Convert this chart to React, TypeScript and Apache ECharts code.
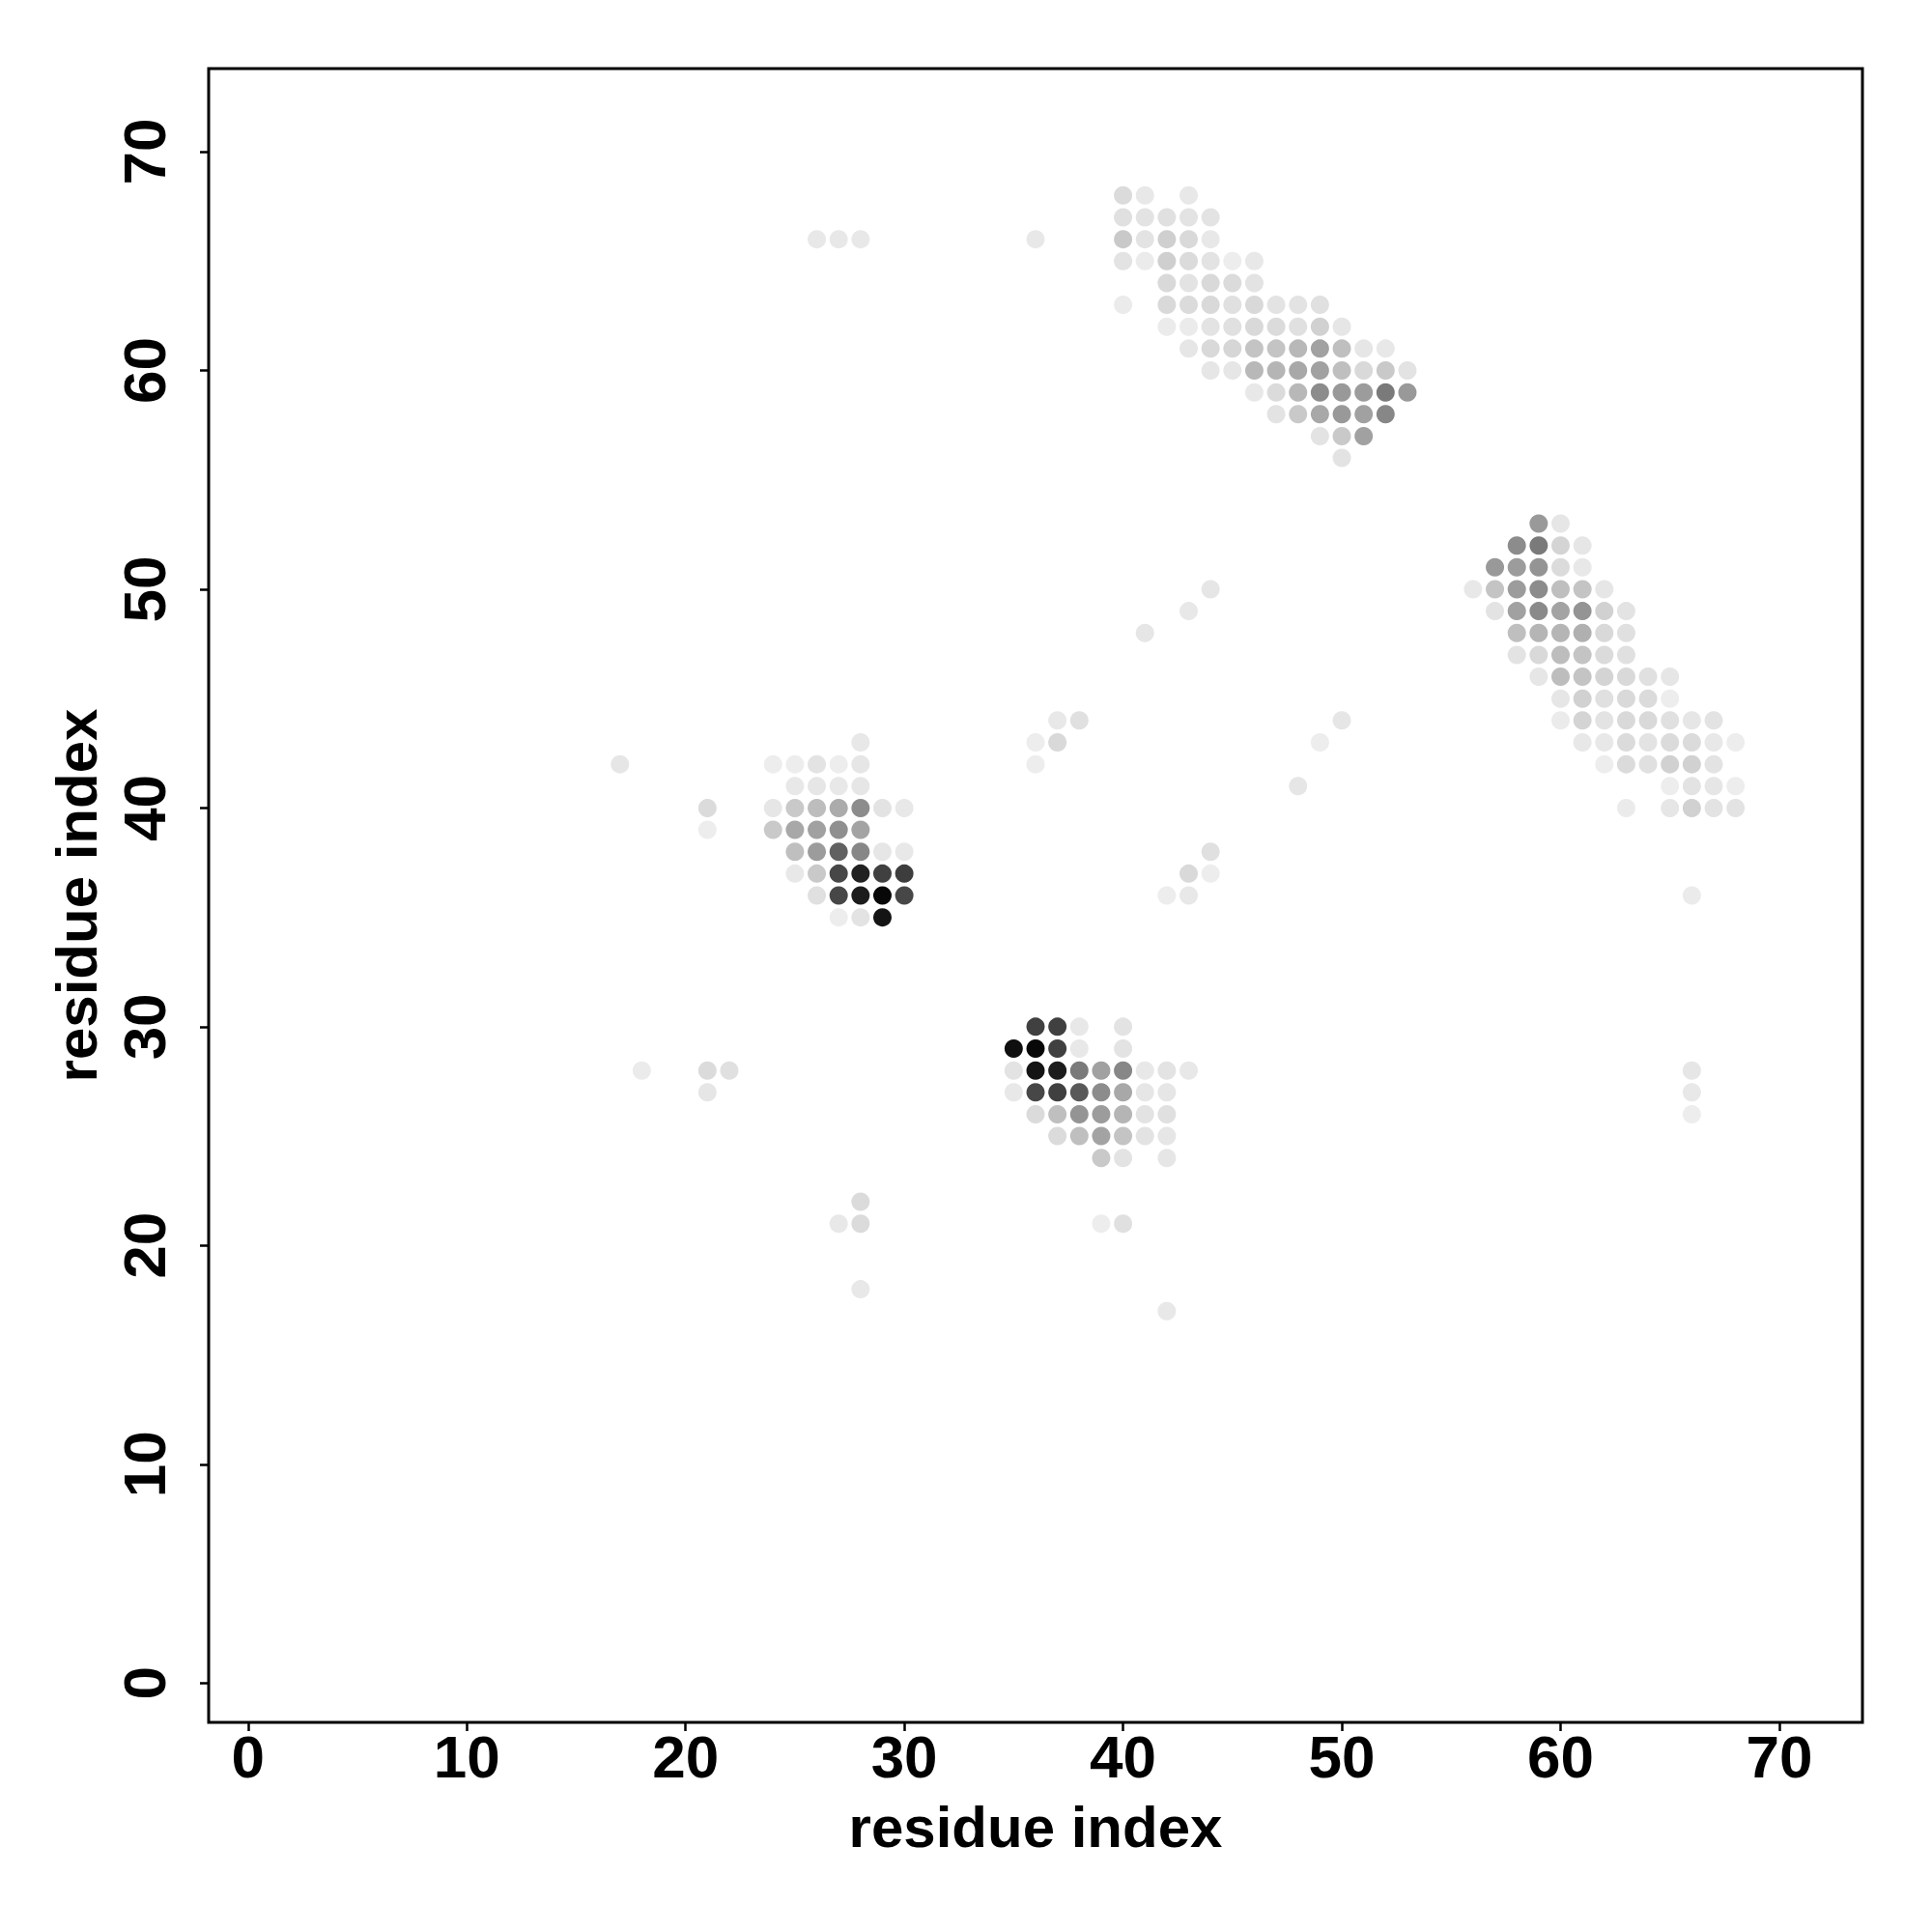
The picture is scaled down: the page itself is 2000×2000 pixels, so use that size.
import React, { useEffect, useRef } from "react";
import * as echarts from "echarts";

// [residue i, residue j, contact frequency]
const clusterTop: number[][] = [
  [40, 68, 0.14], [41, 68, 0.09], [43, 68, 0.09],
  [40, 67, 0.12], [41, 67, 0.11], [42, 67, 0.12], [43, 67, 0.11], [44, 67, 0.11],
  [40, 66, 0.21], [41, 66, 0.11], [42, 66, 0.19], [43, 66, 0.15], [44, 66, 0.09],
  [40, 65, 0.11], [41, 65, 0.08], [42, 65, 0.19], [43, 65, 0.14], [44, 65, 0.11], [45, 65, 0.07], [46, 65, 0.09],
  [42, 64, 0.15], [43, 64, 0.11], [44, 64, 0.15], [45, 64, 0.14], [46, 64, 0.11],
  [40, 63, 0.08], [42, 63, 0.15], [43, 63, 0.14], [44, 63, 0.15], [45, 63, 0.12], [46, 63, 0.15], [47, 63, 0.11], [48, 63, 0.11], [49, 63, 0.12],
  [42, 62, 0.08], [43, 62, 0.08], [44, 62, 0.11], [45, 62, 0.12], [46, 62, 0.15], [47, 62, 0.14], [48, 62, 0.12], [49, 62, 0.18], [50, 62, 0.1],
  [43, 61, 0.1], [44, 61, 0.15], [45, 61, 0.16], [46, 61, 0.23], [47, 61, 0.23], [48, 61, 0.28], [49, 61, 0.37], [50, 61, 0.25], [51, 61, 0.1], [52, 61, 0.09],
  [44, 60, 0.1], [45, 60, 0.1], [46, 60, 0.28], [47, 60, 0.29], [48, 60, 0.34], [49, 60, 0.37], [50, 60, 0.25], [51, 60, 0.15], [52, 60, 0.21], [53, 60, 0.11],
  [46, 59, 0.09], [47, 59, 0.14], [48, 59, 0.28], [49, 59, 0.45], [50, 59, 0.4], [51, 59, 0.39], [52, 59, 0.52], [53, 59, 0.4],
  [47, 58, 0.11], [48, 58, 0.21], [49, 58, 0.34], [50, 58, 0.4], [51, 58, 0.37], [52, 58, 0.47],
  [49, 57, 0.11], [50, 57, 0.21], [51, 57, 0.37],
  [50, 56, 0.11],
];

const clusterRight: number[][] = [
  [59, 53, 0.4], [60, 53, 0.1],
  [58, 52, 0.45], [59, 52, 0.52], [60, 52, 0.17], [61, 52, 0.1],
  [57, 51, 0.4], [58, 51, 0.39], [59, 51, 0.42], [60, 51, 0.14], [61, 51, 0.09],
  [56, 50, 0.09], [57, 50, 0.23], [58, 50, 0.39], [59, 50, 0.45], [60, 50, 0.25], [61, 50, 0.23], [62, 50, 0.1],
  [57, 49, 0.11], [58, 49, 0.37], [59, 49, 0.46], [60, 49, 0.36], [61, 49, 0.42], [62, 49, 0.18], [63, 49, 0.11],
  [58, 48, 0.25], [59, 48, 0.29], [60, 48, 0.29], [61, 48, 0.31], [62, 48, 0.15], [63, 48, 0.12],
  [58, 47, 0.11], [59, 47, 0.15], [60, 47, 0.26], [61, 47, 0.23], [62, 47, 0.14], [63, 47, 0.12],
  [59, 46, 0.1], [60, 46, 0.26], [61, 46, 0.23], [62, 46, 0.17], [63, 46, 0.15], [64, 46, 0.12], [65, 46, 0.1],
  [60, 45, 0.1], [61, 45, 0.18], [62, 45, 0.12], [63, 45, 0.15], [64, 45, 0.14], [65, 45, 0.07],
  [60, 44, 0.08], [61, 44, 0.17], [62, 44, 0.11], [63, 44, 0.15], [64, 44, 0.15], [65, 44, 0.12], [66, 44, 0.1], [67, 44, 0.11],
  [61, 43, 0.09], [62, 43, 0.09], [63, 43, 0.14], [64, 43, 0.11], [65, 43, 0.14], [66, 43, 0.14], [67, 43, 0.09], [68, 43, 0.07],
  [62, 42, 0.07], [63, 42, 0.14], [64, 42, 0.12], [65, 42, 0.18], [66, 42, 0.18], [67, 42, 0.11],
  [65, 41, 0.07], [66, 41, 0.11], [67, 41, 0.1], [68, 41, 0.07],
  [63, 40, 0.08], [65, 40, 0.1], [66, 40, 0.18], [67, 40, 0.11], [68, 40, 0.11],
];

const clusterLeft: number[][] = [
  [28, 43, 0.09],
  [24, 42, 0.07], [25, 42, 0.07], [26, 42, 0.11], [27, 42, 0.07], [28, 42, 0.1],
  [25, 41, 0.09], [26, 41, 0.1], [27, 41, 0.09], [28, 41, 0.1],
  [24, 40, 0.1], [25, 40, 0.21], [26, 40, 0.26], [27, 40, 0.33], [28, 40, 0.45], [29, 40, 0.11], [30, 40, 0.09],
  [24, 39, 0.21], [25, 39, 0.34], [26, 39, 0.37], [27, 39, 0.44], [28, 39, 0.36],
  [25, 38, 0.25], [26, 38, 0.39], [27, 38, 0.62], [28, 38, 0.47], [29, 38, 0.1], [30, 38, 0.09],
  [25, 37, 0.09], [26, 37, 0.21], [27, 37, 0.72], [28, 37, 0.87], [29, 37, 0.75], [30, 37, 0.76],
  [26, 36, 0.12], [27, 36, 0.72], [28, 36, 0.89], [29, 36, 0.97], [30, 36, 0.72],
  [27, 35, 0.07], [28, 35, 0.11], [29, 35, 0.92],
];

const clusterLow: number[][] = [
  [36, 30, 0.75], [37, 30, 0.75], [38, 30, 0.09], [40, 30, 0.11],
  [35, 29, 0.94], [36, 29, 0.97], [37, 29, 0.75], [38, 29, 0.09], [40, 29, 0.11],
  [35, 28, 0.11], [36, 28, 0.92], [37, 28, 0.89], [38, 28, 0.52], [39, 28, 0.37], [40, 28, 0.47], [41, 28, 0.09], [42, 28, 0.11], [43, 28, 0.09],
  [35, 27, 0.09], [36, 27, 0.72], [37, 27, 0.75], [38, 27, 0.65], [39, 27, 0.45], [40, 27, 0.34], [41, 27, 0.1], [42, 27, 0.1],
  [36, 26, 0.14], [37, 26, 0.25], [38, 26, 0.42], [39, 26, 0.39], [40, 26, 0.29], [41, 26, 0.11], [42, 26, 0.12],
  [37, 25, 0.14], [38, 25, 0.25], [39, 25, 0.36], [40, 25, 0.23], [41, 25, 0.11], [42, 25, 0.1],
  [39, 24, 0.21], [40, 24, 0.11], [42, 24, 0.1],
];

const scattered: number[][] = [
  [26, 66, 0.09], [27, 66, 0.09], [28, 66, 0.09], [36, 66, 0.09],
  [17, 42, 0.1], [21, 40, 0.14], [21, 39, 0.07],
  [18, 28, 0.08], [21, 28, 0.14], [22, 28, 0.12], [21, 27, 0.1],
  [28, 22, 0.14], [27, 21, 0.09], [28, 21, 0.14], [28, 18, 0.09],
  [39, 21, 0.07], [40, 21, 0.12], [42, 17, 0.09],
  [36, 43, 0.07], [37, 43, 0.15], [36, 42, 0.07], [37, 44, 0.09], [38, 44, 0.12],
  [41, 48, 0.1], [43, 49, 0.09], [44, 50, 0.1],
  [48, 41, 0.1], [49, 43, 0.07], [50, 44, 0.1],
  [42, 36, 0.07], [43, 36, 0.09], [43, 37, 0.15], [44, 37, 0.07], [44, 38, 0.12],
  [66, 36, 0.08], [66, 28, 0.1], [66, 27, 0.09], [66, 26, 0.07],
];

const tickValues = [0, 10, 20, 30, 40, 50, 60, 70];
const axisTitle = "residue index";

const FONT = "'Liberation Sans', Arial, Helvetica, sans-serif";

export default function App() {
  const ref = useRef<HTMLDivElement>(null);
  useEffect(() => {
    if (!ref.current) return;
    const chart = echarts.init(ref.current, undefined, { renderer: "svg" });
    const data = [...clusterTop, ...clusterRight, ...clusterLeft, ...clusterLow, ...scattered];
    const grid = { left: 216, top: 71, width: 1712, height: 1712 };
    const axisCommon = {
      type: "value" as const,
      min: -1.8,
      max: 73.8,
      splitLine: { show: false },
      axisLine: { show: false, onZero: false },
      axisTick: {
        show: true,
        customValues: tickValues,
        length: 9,
        inside: false,
        lineStyle: { color: "#000", width: 2.5 },
      },
    };
    chart.setOption({
      animation: false,
      backgroundColor: "#ffffff",
      grid: { ...grid, show: true, borderColor: "#000", borderWidth: 3, backgroundColor: "transparent" },
      xAxis: {
        ...axisCommon,
        axisLabel: {
          customValues: tickValues,
          margin: 4,
          fontSize: 62,
          fontWeight: "bold",
          fontFamily: FONT,
          color: "#000",
        },
      },
      yAxis: {
        ...axisCommon,
        axisLabel: {
          customValues: tickValues,
          rotate: 90,
          margin: 36,
          fontSize: 62,
          fontWeight: "bold",
          fontFamily: FONT,
          color: "#000",
        },
      },
      visualMap: {
        show: false,
        type: "continuous",
        min: 0,
        max: 1,
        dimension: 2,
        inRange: { color: ["#ffffff", "#000000"] },
      },
      series: [
        {
          type: "scatter",
          data,
          symbol: "circle",
          symbolSize: 19,
          itemStyle: { opacity: 1 },
          emphasis: { disabled: true },
        },
      ],
      graphic: [
        {
          type: "text",
          x: grid.left + grid.width / 2,
          y: 1891,
          style: {
            text: axisTitle,
            fill: "#000",
            font: `bold 60px ${FONT}`,
            textAlign: "center",
            textVerticalAlign: "middle",
          },
        },
        {
          type: "text",
          x: 79,
          y: grid.top + grid.height / 2,
          rotation: Math.PI / 2,
          style: {
            text: axisTitle,
            fill: "#000",
            font: `bold 60px ${FONT}`,
            textAlign: "center",
            textVerticalAlign: "middle",
          },
        },
      ],
    });
    return () => chart.dispose();
  }, []);
  return (
    <div
      ref={ref}
      style={{ position: "absolute", left: 0, top: 0, width: 2000, height: 2000, background: "#fff" }}
    />
  );
}
